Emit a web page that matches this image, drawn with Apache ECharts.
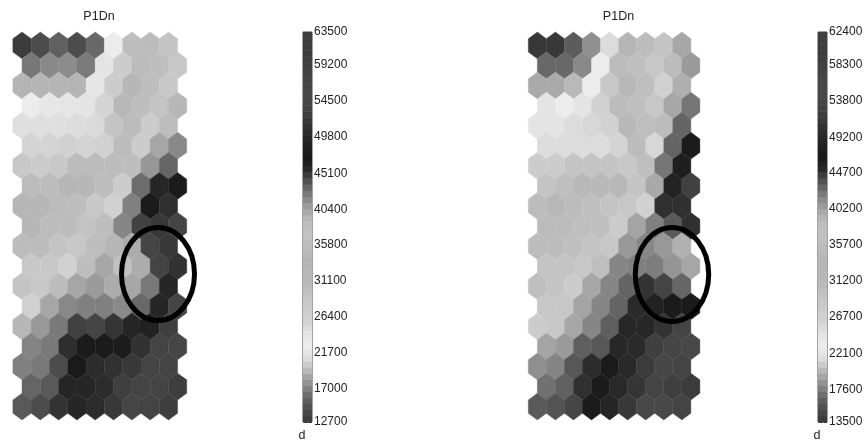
<!DOCTYPE html>
<html><head><meta charset="utf-8">
<script src="https://cdn.jsdelivr.net/npm/echarts@6/dist/echarts.min.js"></script>
<style>html,body{margin:0;padding:0;background:#fff}#c{width:866px;height:441px;filter:blur(0.35px)}</style>
</head><body><div id="c"></div>
<script>
const leftTicks=[63500,59200,54500,49800,45100,40400,35800,31100,26400,21700,17000,12700];
const rightTicks=[62400,58300,53800,49200,44700,40200,35700,31200,26700,22100,17600,13500];
const leftValues=[
[13000,14300,15500,14300,16000,22500,30000,30400,29000],
[16700,17500,17600,16800,24100,27400,30400,30000,28300],
[19300,19300,19300,19300,21800,27400,32000,30000,28300],
[22500,22000,21800,24100,25800,31500,30000,29000,32000],
[24700,24700,24700,25000,25200,29000,30400,27400,36000],
[25800,25800,26400,25800,26400,30400,27400,40300,41800],
[28300,27400,28300,30400,30400,30400,30000,41100,43300],
[30400,30400,33000,32000,30000,27400,43000,46000,47000],
[33000,33000,30400,30000,28300,26400,42200,47300,50800],
[32000,30400,30400,29000,30000,41900,44700,52000,54000],
[30400,30400,29000,28300,30000,33500,39900,54000,52000],
[28300,28300,26400,30000,40300,37500,39900,53700,51200],
[29000,28300,30400,40300,40900,39900,40300,42500,46000],
[26400,40300,41800,42200,42200,41700,43200,46000,54000],
[32000,41000,42500,44700,54000,51500,46000,49000,53000],
[42000,42500,45400,47000,47300,48000,51200,53700,54500],
[42200,42500,44300,47100,50400,51200,52000,53700,53700],
[43300,43800,46000,46000,50400,53000,53700,53700,52800],
[43800,44300,45200,46000,50400,52000,54500,53700,52800]];
const rightValues=[
[13500,13500,16000,18400,21400,33000,30500,29300,40000],
[16650,16650,18100,23000,30500,30000,28700,30500,40700],
[19400,19400,20000,23000,28700,31500,30000,26700,39500],
[24500,23000,24500,26700,30500,30000,28700,40000,42300],
[24500,24500,25300,25800,26700,31500,30000,30500,43000],
[25300,25300,25300,25300,26100,30500,25800,43000,46500],
[27700,27700,29300,29300,29300,28500,30000,42300,46200],
[29300,30000,31500,31500,31500,29300,39900,45800,52500],
[30500,31500,30500,30000,29300,28700,26700,44900,50300],
[30500,30500,30000,30000,27700,40200,41900,43400,50300],
[30500,30500,30000,29300,28700,40800,41600,40800,39400],
[29300,29300,28700,30000,41600,41900,42000,40900,40100],
[30000,29300,27700,40100,41600,43000,44800,44200,42900],
[28700,28700,40200,41600,43000,45200,45900,46500,46900],
[27700,28700,40000,41600,43200,45500,45500,50700,53000],
[40200,40700,43200,43500,45500,49500,52300,53500,55000],
[41200,41700,43500,45050,46900,49400,51800,54000,52900],
[42500,43100,44900,46500,49400,50900,52900,52300,51800],
[43400,43600,44100,46900,48900,51400,54500,54500,52900]];
const grays=[0x38,0x4c,0x68,0x8c,0xb4,0xdc,0xec,0xe4,0xd4,0xcc,0xc4,0xba,0xb6,0xb6,0xbc,0xc2,0xbc,0xa2,0x80,0x58,0x2c,0x1a,0x20,0x2c,0x38,0x44,0x48,0x48,0x42,0x3e,0x3c,0x40];
const colormap=grays.map(g=>`rgb(${g},${g},${g})`);
const font='"Liberation Sans",Arial,sans-serif';

const cells=m=>m.flatMap((row,r)=>row.map((v,c)=>[c+(r%2?0.5:0),r,v]));
const levels=t=>{const lo=t[t.length-1],hi=t[0],n=64,step=(hi-lo)/n,out=[];
  for(let i=0;i<n;i++)out.push([lo+i*step,lo+(i+1)*step,lo+(i+0.5)*step]);return out;};

function hexItem(params,api){
  const x=api.value(0),y=api.value(1),w=0.5,a=1/3,b=2/3;
  const pts=[[x,y-b],[x+w,y-a],[x+w,y+a],[x,y+b],[x-w,y+a],[x-w,y-a]].map(p=>api.coord(p));
  const col=api.visual('color');
  return {type:'polygon',shape:{points:pts},style:{fill:col,stroke:col,lineWidth:0.4}};
}
function barItem(params,api){
  const a=api.coord([0,api.value(1)]),b=api.coord([1,api.value(0)]),col=api.visual('color');
  return {type:'rect',shape:{x:a[0],y:a[1],width:b[0]-a[0],height:b[1]-a[1]+0.5},style:{fill:col}};
}
const grids=[
 {left:12.85,top:32,width:173.9,height:388},
 {left:303,top:32,width:9,height:390,show:true,borderColor:'#444',borderWidth:1,backgroundColor:'transparent'},
 {left:528.3,top:32,width:171.6,height:388},
 {left:818,top:32,width:9,height:390,show:true,borderColor:'#444',borderWidth:1,backgroundColor:'transparent'}];
const mapX=i=>({gridIndex:i,type:'value',min:-0.5,max:9,show:false});
const mapY=i=>({gridIndex:i,type:'value',min:-2/3,max:18+2/3,inverse:true,show:false});
const barX=i=>({gridIndex:i,type:'value',min:0,max:1,show:false});
const barY=(i,t)=>({gridIndex:i,type:'value',position:'right',min:t[t.length-1],max:t[0],
  splitLine:{show:false},axisLine:{show:false,onZero:false},
  axisTick:{show:true,inside:true,length:9,customValues:t,lineStyle:{color:'#222',type:[3,1.5],width:1}},
  axisLabel:{show:true,margin:2,customValues:t,formatter:v=>String(v),color:'#222',fontFamily:font,fontSize:12}});
const mk=(kind,i,data)=>({type:'custom',xAxisIndex:i,yAxisIndex:i,data,renderItem:kind,clip:false,silent:true,
  dimensions:kind===hexItem?['x','y','v']:['lo','hi','v'],encode:kind===hexItem?{x:0,y:1}:{y:[0,1]}});
const titles=[['P1Dn',99,10],['P1Dn',618.5,10],['d',302,429],['d',817,429]].map(([text,x,top])=>({
  text,left:x,top,textAlign:'center',textStyle:{fontFamily:font,fontWeight:'normal',fontSize:12.5,color:'#222'},padding:0}));
const ring=(cx,cy,rx,ry)=>({type:'ellipse',z:100,shape:{cx,cy,rx,ry},style:{fill:'transparent',stroke:'#000',lineWidth:5}});

const chart=echarts.init(document.getElementById('c'),null,{renderer:'canvas'});
chart.setOption({
 animation:false,backgroundColor:'#fff',title:titles,grid:grids,
 xAxis:[mapX(0),barX(1),mapX(2),barX(3)],
 yAxis:[mapY(0),barY(1,leftTicks),mapY(2),barY(3,rightTicks)],
 visualMap:[
  {show:false,type:'continuous',seriesIndex:[0,1],dimension:2,min:leftTicks[leftTicks.length-1],max:leftTicks[0],inRange:{color:colormap}},
  {show:false,type:'continuous',seriesIndex:[2,3],dimension:2,min:rightTicks[rightTicks.length-1],max:rightTicks[0],inRange:{color:colormap}}],
 series:[mk(hexItem,0,cells(leftValues)),mk(barItem,1,levels(leftTicks)),mk(hexItem,2,cells(rightValues)),mk(barItem,3,levels(rightTicks))],
 graphic:[ring(158,274,36.5,46.5),ring(672,274.5,36.7,47)]
});
</script></body></html>
